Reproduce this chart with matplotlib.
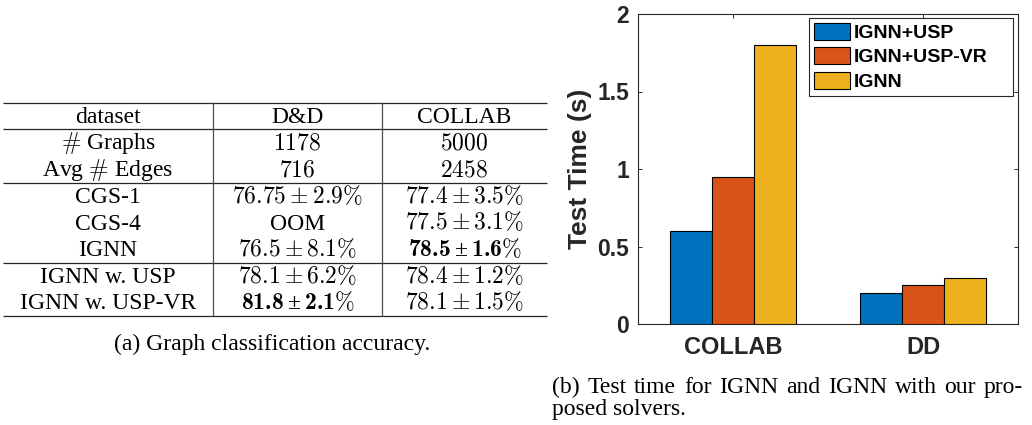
import matplotlib
matplotlib.use("Agg")
import matplotlib.pyplot as plt
import numpy as np

plt.rcParams['mathtext.fontset'] = 'cm'
# "custom" math fonts are only used for the bold table cells
plt.rcParams['mathtext.rm'] = 'Liberation Serif'
plt.rcParams['mathtext.bf'] = 'cmb10'
plt.rcParams['mathtext.tt'] = 'cmr10'
plt.rcParams['mathtext.it'] = 'cmmi10'

# ---------------- data ----------------
table_header = ["dataset", "D&D", "COLLAB"]
table_stats = [
    [r"$\#$ Graphs", r"$1178$", r"$5000$"],
    [r"Avg $\#$ Edges", r"$716$", r"$2458$"],
]
table_baselines = [
    ["CGS-1", r"$76.75\pm2.9\%$", r"$77.4\pm3.5\%$"],
    ["CGS-4", "OOM", r"$77.5\pm3.1\%$"],
    ["IGNN", r"$76.5\pm8.1\%$", r"$\mathbf{78.5}\pm\mathbf{1.6}\mathtt{\%}$"],
]
table_ours = [
    ["IGNN w. USP", r"$78.1\pm6.2\%$", r"$78.4\pm1.2\%$"],
    ["IGNN w. USP-VR", r"$\mathbf{81.8}\pm\mathbf{2.1}\mathtt{\%}$", r"$78.1\pm1.5\%$"],
]
caption_a = "(a) Graph classification accuracy."
caption_b = ["(b) Test time for IGNN and IGNN with our pro-", "posed solvers."]

datasets = ["COLLAB", "DD"]
methods = ["IGNN+USP", "IGNN+USP-VR", "IGNN"]
test_time = {
    "IGNN+USP": [0.60, 0.20],
    "IGNN+USP-VR": [0.95, 0.25],
    "IGNN": [1.80, 0.30],
}
yticks = [0, 0.5, 1, 1.5, 2]
ytick_labels = ["0", "0.5", "1", "1.5", "2"]
colors = ["#0072BD", "#D95319", "#EDB120"]

# ---------------- figure ----------------
W, H = 1032, 425
fig = plt.figure(figsize=(W / 100, H / 100), dpi=100)

# overlay axes in pixel coordinates for table + captions
tax = fig.add_axes([0, 0, 1, 1])
tax.set_xlim(0, W)
tax.set_ylim(H, 0)
tax.axis("off")

serif = "Liberation Serif"
fs_tab = 17
x_left, x_right = 3, 547
col_lines = [213, 382]
col_centers = [(x_left + col_lines[0]) / 2, (col_lines[0] + col_lines[1]) / 2,
               (col_lines[1] + x_right) / 2]
rules = [103, 129, 183, 263, 316]
groups = [[table_header], table_stats, table_baselines, table_ours]

for r in rules:
    tax.plot([x_left, x_right], [r, r], color="0.15", lw=0.9, solid_capstyle="butt")
for c in col_lines:
    tax.plot([c, c], [rules[0], rules[-1]], color="0.3", lw=0.9, solid_capstyle="butt")

for gi, rows in enumerate(groups):
    top, bot = rules[gi], rules[gi + 1]
    h = (bot - top) / len(rows)
    for ri, row in enumerate(rows):
        yb = top + h * (ri + 0.5) + 6.5
        for ci, cell in enumerate(row):
            mff = "custom" if r"\mathbf" in cell else "cm"
            tax.text(col_centers[ci], yb, cell, ha="center", va="baseline",
                     fontsize=fs_tab, family=serif, color="black",
                     math_fontfamily=mff)

tax.text(272, 350, caption_a, ha="center", va="baseline", fontsize=fs_tab,
         family=serif, color="black")

# justified first line of caption (b)
renderer = fig.canvas.get_renderer()
words = caption_b[0].split()
x0_px, x1_px = 552, 1023
wtexts = [tax.text(0, 393, w_, ha="left", va="baseline", fontsize=fs_tab,
                   family=serif, color="black") for w_ in words]
widths = [t.get_window_extent(renderer).width for t in wtexts]
gap = (x1_px - x0_px - sum(widths)) / (len(words) - 1)
xc = x0_px
for t, wd in zip(wtexts, widths):
    t.set_x(xc)
    xc += wd + gap
tax.text(552, 415, caption_b[1], ha="left", va="baseline", fontsize=fs_tab,
         family=serif, color="black")

# ---------------- bar chart ----------------
ax_l, ax_r, ax_t, ax_b = 638, 1018, 14, 324
ax = fig.add_axes([ax_l / W, (H - ax_b) / H, (ax_r - ax_l) / W, (ax_b - ax_t) / H])
sans = "Liberation Sans"
dark = "#262626"

x = np.arange(1, len(datasets) + 1)
bw = 0.22
for i, m in enumerate(methods):
    ax.bar(x + (i - 1) * bw, test_time[m], width=bw, color=colors[i],
           edgecolor="black", linewidth=0.8, label=m, zorder=3)

ax.set_xlim(0.5, 2.5)
ax.set_ylim(0, 2)
ax.set_xticks(x)
ax.set_xticklabels(datasets, fontsize=17, fontweight="bold", family=sans, color=dark)
ax.set_yticks(yticks)
ax.set_yticklabels(ytick_labels, fontsize=16.5, fontweight="bold", family=sans, color=dark)
ax.tick_params(axis="both", direction="in", length=3, width=0.7, color=dark,
               top=True, right=True)
ax.tick_params(axis="y", pad=6.5)
ax.tick_params(axis="x", pad=9)
for s in ax.spines.values():
    s.set_color(dark)
    s.set_linewidth(0.8)
ax.set_ylabel("Test Time (s)", fontsize=19, fontweight="bold", family=sans,
              color=dark, labelpad=4)

lx0 = (809 - ax_l) / (ax_r - ax_l)
lx1 = (1013 - ax_l) / (ax_r - ax_l)
ly1 = (ax_b - 18) / (ax_b - ax_t)
leg = ax.legend(loc="upper left", bbox_to_anchor=(lx0, 0.5, lx1 - lx0, ly1 - 0.5),
                mode="expand", borderaxespad=0, fancybox=False, framealpha=1,
                edgecolor=dark, prop={"family": sans, "weight": "bold", "size": 14},
                handlelength=1.85, handleheight=0.95, handletextpad=0.2,
                labelspacing=0.28, borderpad=0.25)
leg.get_frame().set_linewidth(0.8)
for t in leg.get_texts():
    t.set_color("black")

fig.savefig("out.png", dpi=100)
